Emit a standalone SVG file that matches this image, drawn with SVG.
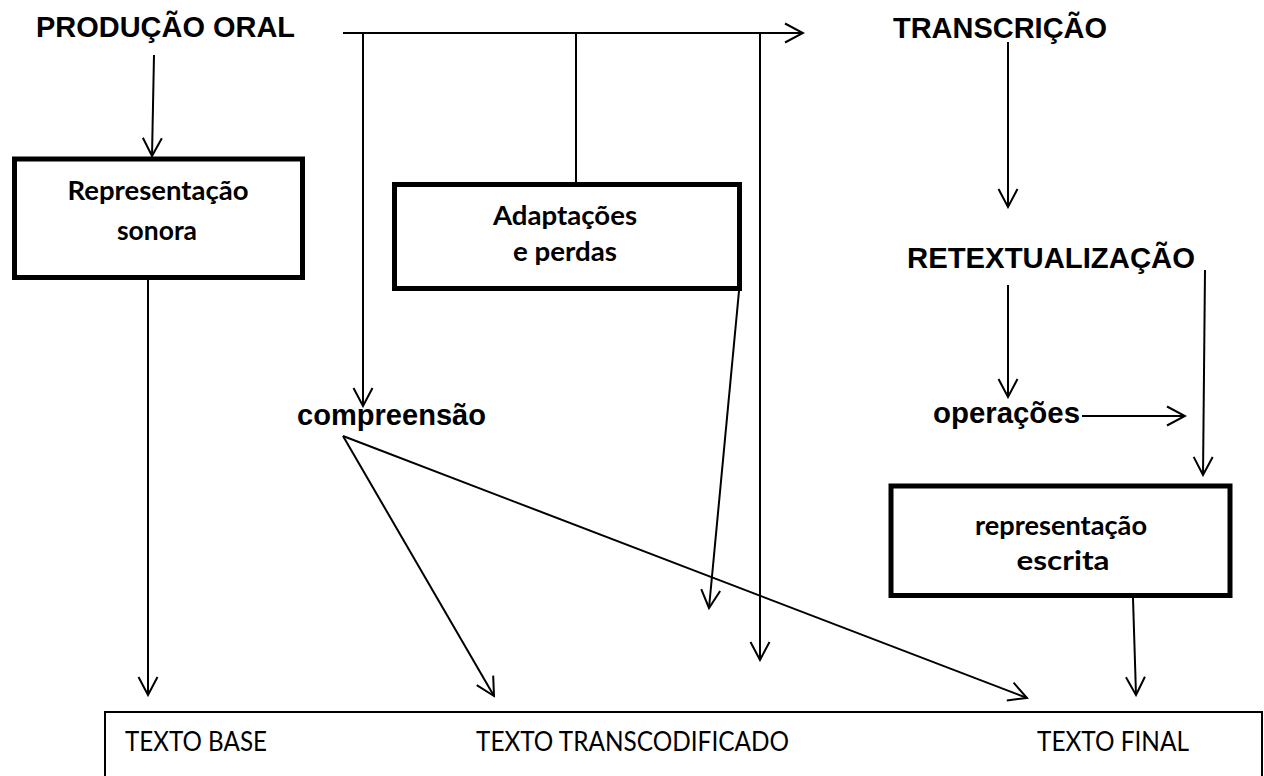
<svg xmlns="http://www.w3.org/2000/svg" width="1264" height="776" viewBox="0 0 1264 776">
  <style>
    .head { font-family: "Liberation Sans", Arial, sans-serif; font-weight: 700; font-size: 29px; fill: #000; }
    .box { fill: #fff; stroke: #000; stroke-width: 5; }
    .boxtxt { font-family: Lato, "Open Sans", sans-serif; font-weight: 700; font-size: 27px; fill: #000; text-anchor: middle; }
    .base { font-family: Lato, "Open Sans", sans-serif; font-weight: 400; font-size: 27px; fill: #000; }
    .ln { stroke: #000; stroke-width: 2; fill: none; }
    .arr { stroke: #000; stroke-width: 2; fill: none; marker-end: url(#ah); }
  </style>
  <defs>
    <marker id="ah" markerUnits="userSpaceOnUse" viewBox="-21 -12 23 24" refX="0" refY="0" markerWidth="23" markerHeight="24" orient="auto">
      <path d="M-18,-9.5 L0,0 L-18,9.5" fill="none" stroke="#000" stroke-width="2" stroke-linejoin="miter"/>
    </marker>
  </defs>
  <rect width="1264" height="776" fill="#fff"/>

  <g id="connectors">
    <line class="arr" x1="154" y1="55" x2="152" y2="156"/>
    <line class="arr" x1="148" y1="280" x2="148" y2="695"/>
    <line class="arr" x1="343" y1="33" x2="803" y2="33"/>
    <line class="arr" x1="363" y1="33" x2="363" y2="406"/>
    <line class="ln" x1="576" y1="33" x2="576" y2="184"/>
    <line class="arr" x1="760" y1="33" x2="760" y2="660"/>
    <line class="arr" x1="343" y1="436" x2="494" y2="696"/>
    <line class="arr" x1="343" y1="436" x2="1027" y2="698"/>
    <line class="arr" x1="739" y1="291" x2="709" y2="608"/>
    <line class="arr" x1="1008" y1="42" x2="1008" y2="207"/>
    <line class="arr" x1="1008" y1="285" x2="1008" y2="397"/>
    <line class="arr" x1="1205" y1="270" x2="1203" y2="475"/>
    <line class="arr" x1="1082" y1="416" x2="1185" y2="416"/>
    <line class="arr" x1="1133" y1="598" x2="1136" y2="695"/>
  </g>

  <g id="producao-oral">
    <text class="head" x="36" y="37" textLength="259" lengthAdjust="spacingAndGlyphs">PRODUÇÃO ORAL</text>
  </g>
  <g id="transcricao">
    <text class="head" x="893" y="38" textLength="214" lengthAdjust="spacingAndGlyphs">TRANSCRIÇÃO</text>
  </g>
  <g id="retextualizacao">
    <text class="head" x="907" y="268" textLength="288" lengthAdjust="spacingAndGlyphs">RETEXTUALIZAÇÃO</text>
  </g>
  <g id="compreensao">
    <text class="head" x="297" y="425" textLength="189" lengthAdjust="spacingAndGlyphs">compreensão</text>
  </g>
  <g id="operacoes">
    <text class="head" x="933" y="423" textLength="147" lengthAdjust="spacingAndGlyphs">operações</text>
  </g>

  <g id="representacao-sonora">
    <rect class="box" x="14.5" y="159" width="288" height="118.5"/>
    <text class="boxtxt" x="158" y="200" textLength="181" lengthAdjust="spacingAndGlyphs">Representação</text>
    <text class="boxtxt" x="157" y="240" textLength="80" lengthAdjust="spacingAndGlyphs">sonora</text>
  </g>
  <g id="adaptacoes">
    <rect class="box" x="394.5" y="184.5" width="345" height="104"/>
    <text class="boxtxt" x="565" y="225" textLength="144" lengthAdjust="spacingAndGlyphs">Adaptações</text>
    <text class="boxtxt" x="565" y="261" textLength="104" lengthAdjust="spacingAndGlyphs">e perdas</text>
  </g>
  <g id="representacao-escrita">
    <rect class="box" x="891" y="486" width="339" height="109.5"/>
    <text class="boxtxt" x="1061" y="535" textLength="172" lengthAdjust="spacingAndGlyphs">representação</text>
    <text class="boxtxt" x="1063" y="570" textLength="93" lengthAdjust="spacingAndGlyphs">escrita</text>
  </g>

  <g id="textos">
    <rect x="105" y="712" width="1157" height="80" fill="#fff" stroke="#000" stroke-width="2"/>
    <text class="base" x="125" y="751" textLength="142" lengthAdjust="spacingAndGlyphs">TEXTO BASE</text>
    <text class="base" x="476" y="751" textLength="313" lengthAdjust="spacingAndGlyphs">TEXTO TRANSCODIFICADO</text>
    <text class="base" x="1037" y="751" textLength="152" lengthAdjust="spacingAndGlyphs">TEXTO FINAL</text>
  </g>
</svg>
